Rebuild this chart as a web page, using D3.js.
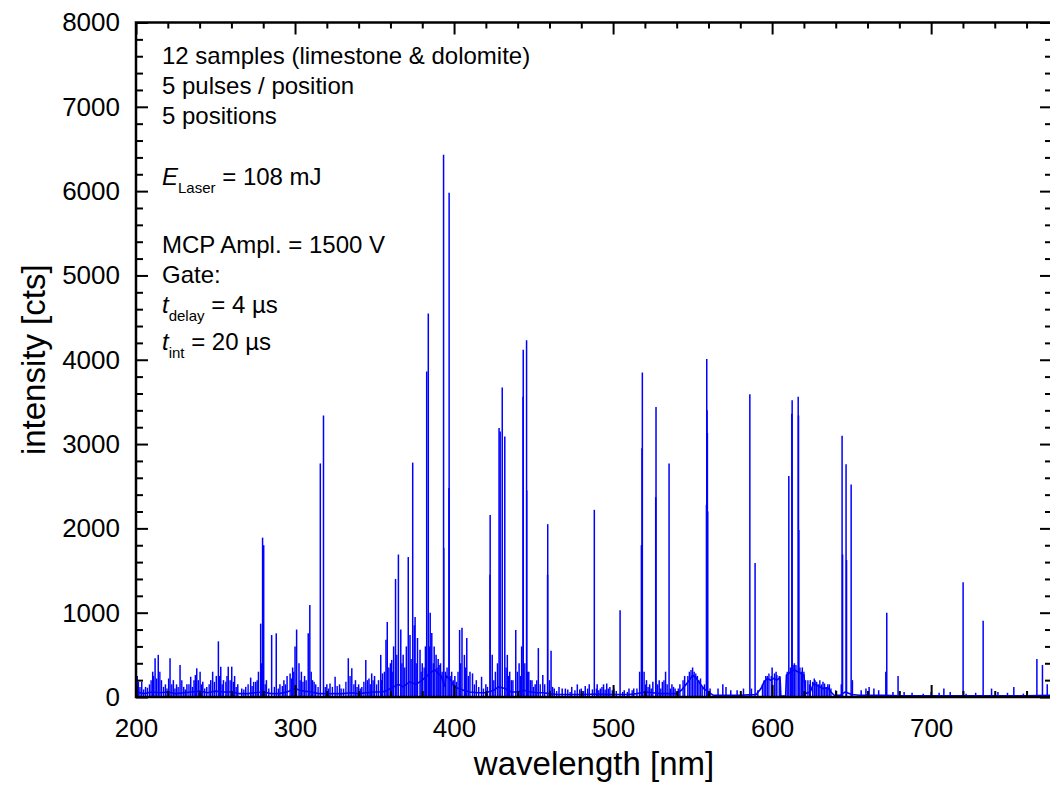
<!DOCTYPE html>
<html>
<head>
<meta charset="utf-8">
<script src="https://cdn.jsdelivr.net/npm/d3@7"></script>
<style>
  body { margin: 0; background: #fff; }
  svg { display: block; font-family: "Liberation Sans", Arial, sans-serif; }
  .axis .domain { display: none; }
  .axis line { stroke: #000; stroke-width: 2; }
  .axis text { font-size: 26px; fill: #000; font-family: "Liberation Sans", Arial, sans-serif; }
  .note { font-size: 24px; fill: #000; }
  .axis-label { font-size: 33px; fill: #000; }
</style>
</head>
<body>
<svg width="1050" height="800"></svg>
<script>
// axis ticks
const xTicks = [200, 300, 400, 500, 600, 700];
const xMinorTicks = [220, 240, 260, 280, 320, 340, 360, 380, 420, 440, 460, 480,
  520, 540, 560, 580, 620, 640, 660, 680, 720, 740, 760];
const yTicks = [0, 1000, 2000, 3000, 4000, 5000, 6000, 7000, 8000];

// emission lines: [wavelength nm, intensity cts]
const peaks = [
  [201.5, 180], [203.6, 180], [206, 120], [208.5, 150], [210.5, 300], [212, 460], [214, 500],
  [216, 200], [218.5, 150], [221.4, 460], [223.5, 200], [225.5, 150], [227.7, 380], [230, 120],
  [232, 150], [234.4, 240], [236.5, 200], [238.2, 340], [240.3, 300], [242, 180], [244.5, 120],
  [247, 200], [248.2, 300], [250.5, 250], [251.8, 660], [253.3, 360], [255, 200], [258, 360],
  [260.2, 360], [262, 250], [264, 150], [266.5, 100], [269, 120], [272.1, 230], [274, 180],
  [275.3, 180], [277, 300], [278.4, 870], [279.6, 1890], [280.3, 1800], [282, 200], [285.3, 735],
  [288.2, 755], [290.5, 150], [293, 200], [295, 250], [296.9, 280], [298.5, 350], [300, 600],
  [301, 800], [302.5, 400], [304, 300], [306, 250], [308.3, 755], [309.3, 1090], [311, 200],
  [313, 150], [315.9, 2770], [317.9, 3340], [320, 150], [322, 160], [325.2, 240], [328, 150],
  [330.5, 100], [333.5, 460], [335.7, 340], [338, 200], [340, 150], [342, 120], [344.5, 440],
  [346.5, 220], [348.2, 280], [350, 250], [352.5, 200], [353.9, 500], [355, 280], [357.2, 680],
  [358, 890], [360, 400], [360.8, 440], [362, 600], [363.2, 1400], [365, 1690], [366.5, 800],
  [368, 500], [370, 600], [371.2, 1660], [372.3, 735], [374, 2780], [375, 850], [375.5, 950],
  [377, 700], [378.6, 560], [380, 400], [382, 600], [382.8, 3860], [383.8, 4550], [385, 1000],
  [386, 760], [387.5, 600], [388.7, 500], [390, 450], [390.6, 380], [391.5, 400], [393.4, 6430],
  [393.5, 1770], [396.9, 5980], [396.8, 2480], [398.5, 300], [400.5, 250], [403.5, 795],
  [405, 820], [406.5, 500], [408, 700], [410, 300], [411.6, 280], [414, 200], [417.3, 240],
  [420, 150], [422.7, 2160], [422.6, 1450], [424, 500], [426, 300], [428.3, 3190], [429, 3150],
  [430.3, 3670], [431.9, 3090], [433.5, 500], [435, 300], [437, 200], [438.8, 795], [440.9, 400],
  [442.5, 600], [443.5, 4120], [443.4, 3560], [445.6, 4230], [445.7, 2450], [447, 300],
  [449, 200], [451, 150], [453, 580], [455.8, 260], [458.9, 2050], [458.8, 1450], [461, 550],
  [463, 100], [466, 120], [468, 100], [470, 100], [474, 120], [477.5, 150], [480, 100],
  [482.5, 130], [485, 150], [488.2, 2220], [490, 150], [492, 100], [494, 150], [496, 160],
  [498, 120], [500.5, 100], [504.4, 1030], [507, 80], [510, 100], [513, 100], [516.7, 300],
  [517.8, 1800], [518.4, 3850], [518.2, 2950], [519.5, 300], [521, 200], [523, 150], [525, 180],
  [527, 3440], [526.8, 2370], [529, 200], [531, 180], [533, 300], [535.2, 2770], [537, 150],
  [539, 100], [542, 150], [545, 250], [548, 300], [550, 350], [553, 250], [556, 120],
  [558.9, 4010], [559.1, 3400], [559.3, 3130], [558.7, 2280], [559.5, 2200], [561, 100],
  [566, 100], [569, 150], [571, 120], [574, 80], [578, 80], [582, 100], [586, 3590], [587, 100],
  [589.3, 1590], [591, 80], [594, 150], [597, 250], [600, 350], [602.5, 300], [610.5, 2620],
  [612.6, 3520], [612.4, 3360], [614, 400], [616.4, 3560], [616.6, 3340], [616.8, 1980],
  [619, 350], [621, 200], [624, 200], [627, 200], [629, 150], [632, 180], [634, 120], [636, 150],
  [640, 80], [643.5, 150], [644, 3100], [644.3, 1690], [646.5, 2760], [646.8, 1625],
  [649.7, 2520], [650.5, 200], [656, 80], [659, 100], [661, 120], [664, 100], [667, 80],
  [671.5, 300], [672.1, 1000], [676, 60], [679.2, 250], [683, 60], [688, 50], [695, 40],
  [700, 60], [705, 50], [708, 100], [712, 60], [720.1, 1360], [722, 40], [728, 50], [732.7, 905],
  [738, 100], [742, 60], [748, 50], [752, 120], [758, 40], [766.5, 450], [770, 380], [773, 150]
];

// low noise lines along the baseline: [wavelength nm, intensity cts]
const noise = [
  [200.8, 250], [202.5, 120], [204.8, 90], [207.2, 110], [209.5, 200], [211, 250], [213, 220],
  [215, 300], [217.3, 120], [219.5, 100], [220.5, 220], [222.5, 150], [224.5, 100], [226.5, 120],
  [228.8, 200], [231, 90], [233.3, 150], [235.5, 120], [237.3, 260], [239.2, 200], [241.2, 150],
  [243.2, 100], [246, 150], [249.3, 180], [252.5, 250], [254.2, 150], [256.5, 180], [257.2, 250],
  [259.2, 200], [261.2, 180], [263, 120], [267.8, 90], [270.5, 150], [273, 130], [276.2, 200],
  [279, 400], [281.2, 150], [283.5, 100], [287, 120], [289.5, 100], [292, 130], [294, 150],
  [297.8, 220], [299.2, 300], [303.2, 200], [305, 180], [307, 200], [310.2, 300], [312, 180],
  [314.5, 120], [319, 120], [321, 100], [323.5, 120], [326.5, 130], [329, 100], [332, 180],
  [334.6, 250], [337, 150], [339, 120], [341, 100], [343.3, 180], [345.5, 200], [347.3, 150],
  [349.1, 200], [351.3, 150], [354.5, 200], [356.2, 300], [359, 350], [361.5, 300], [364, 500],
  [367.2, 400], [369, 350], [373, 450], [376.2, 400], [379.3, 300], [381.2, 350], [384.5, 600],
  [387, 400], [389.3, 350], [392.5, 300], [394.6, 300], [395.6, 350], [398, 250], [399.5, 200],
  [401.5, 180], [402.5, 300], [404.2, 400], [407.2, 350], [409, 250], [412.8, 150], [415.5, 120],
  [418.5, 100], [421, 120], [425, 200], [427.3, 400], [432.7, 350], [434.2, 250], [436, 200],
  [439.8, 300], [441.8, 250], [444.5, 400], [446.3, 300], [448, 200], [450, 120], [452, 200],
  [454.2, 150], [457, 150], [460, 200], [462, 120], [464.5, 70], [471.5, 90], [473, 60],
  [476, 80], [479, 90], [481.5, 70], [484, 100], [487, 90], [489.5, 100], [491, 80], [493, 120],
  [495, 90], [497, 100], [499.5, 80], [502, 70], [506, 60], [509, 60], [512, 80], [515, 100],
  [520.5, 150], [522, 120], [524, 100], [528, 150], [530, 100], [532, 200], [534, 150], [536, 100],
  [538, 120], [541, 100], [544, 200], [547, 250], [549, 320], [551, 300], [552, 280], [554, 200],
  [555, 220], [557.5, 150], [595, 200], [596, 250], [598, 280], [599.5, 250], [601.5, 280],
  [603, 260], [604.5, 250], [609.5, 300], [611.5, 350], [613.2, 380], [615, 380], [617.5, 350],
  [618.5, 300], [620, 300], [622.5, 200], [623.5, 150], [625.5, 180], [626.5, 220], [628, 180],
  [630, 200], [631, 150], [633, 160], [635, 150], [637, 100]
];

// background continuum under the lines: [wavelength nm, intensity cts]
const continuum = [
  [200, 60], [205, 40], [210, 60], [215, 50], [220, 60], [225, 40], [230, 50], [235, 60],
  [240, 70], [245, 50], [250, 70], [255, 60], [260, 60], [265, 40], [270, 40], [275, 50],
  [280, 60], [285, 40], [290, 40], [295, 60], [300, 100], [303, 80], [306, 70], [310, 60],
  [315, 40], [320, 40], [325, 40], [330, 40], [335, 50], [340, 40], [345, 50], [350, 60],
  [355, 60], [358, 80], [360, 100], [365, 150], [368, 120], [372, 180], [376, 150], [380, 200],
  [383, 250], [386, 300], [388, 320], [390, 280], [392, 250], [394, 120], [395, 250], [398, 200],
  [400, 120], [403, 100], [406, 80], [410, 60], [415, 50], [420, 50], [425, 80], [428, 120],
  [432, 100], [436, 60], [440, 60], [444, 80], [448, 60], [452, 50], [456, 50], [460, 40],
  [465, 30], [470, 30], [480, 30], [490, 35], [500, 30], [510, 30], [515, 40], [520, 60],
  [525, 50], [530, 40], [535, 40], [540, 40], [543, 80], [546, 150], [548, 200], [550, 260],
  [552, 230], [555, 150], [557, 100], [560, 60], [563, 20], [570, 20], [575, 20], [580, 20],
  [585, 25], [590, 30], [593, 100], [595, 180], [597, 220], [599, 200], [601, 220], [603, 200],
  [605, 230], [605.5, 10], [608.5, 10], [609, 260], [611, 290], [614, 320], [617, 290],
  [620, 260], [621, 40], [624, 60], [626, 160], [629, 130], [632, 100], [635, 110], [637, 60],
  [639, 20], [643, 20], [646, 60], [650, 30], [655, 20], [660, 20], [670, 20], [680, 15],
  [690, 15], [700, 15], [710, 15], [720, 15], [730, 15], [740, 15], [750, 15], [760, 15],
  [776, 20]
];

const svg = d3.select("svg");
const width = +svg.attr("width");
const height = +svg.attr("height");

const margin = { top: 22.5, right: -2, bottom: 103, left: 136 };
const innerWidth = width - margin.left - margin.right;
const innerHeight = height - margin.top - margin.bottom;

const xScale = d3.scaleLinear().domain([200, 776]).range([0, innerWidth]);
const yScale = d3.scaleLinear().domain([0, 8000]).range([innerHeight, 0]);

const yMinorTicks = d3.range(200, 8000, 200).filter(v => v % 1000 !== 0);

const blue = "#0000ff";

const g = svg.append("g").attr("transform", `translate(${margin.left},${margin.top})`);

g.append("clipPath").attr("id", "plot-clip")
  .append("rect").attr("width", innerWidth).attr("height", innerHeight);

// spectrum
const plot = g.append("g").attr("clip-path", "url(#plot-clip)");

plot.append("path")
  .datum(continuum)
  .attr("fill", "none")
  .attr("stroke", blue)
  .attr("stroke-width", 1.6)
  .attr("d", d3.line().x(d => xScale(d[0])).y(d => yScale(d[1])));

plot.selectAll("line.noise")
  .data(noise)
  .join("line")
  .attr("class", "noise")
  .attr("x1", d => xScale(d[0]))
  .attr("x2", d => xScale(d[0]))
  .attr("y1", yScale(0))
  .attr("y2", d => yScale(d[1]))
  .attr("stroke", blue)
  .attr("stroke-width", 1.4);

plot.selectAll("line.peak")
  .data(peaks)
  .join("line")
  .attr("class", "peak")
  .attr("x1", d => xScale(d[0]))
  .attr("x2", d => xScale(d[0]))
  .attr("y1", yScale(0))
  .attr("y2", d => yScale(d[1]))
  .attr("stroke", blue)
  .attr("stroke-width", 1.5);

// axes with inward ticks on all four sides
const fmt = d3.format("d");

// helper: tick marks only, no labels
const tickOnly = (axis, transform) => {
  const a = g.append("g").attr("class", "axis");
  if (transform) a.attr("transform", transform);
  a.call(axis.tickFormat(""));
  a.selectAll("text").remove();
};

g.append("g").attr("class", "axis")
  .attr("transform", `translate(0,${innerHeight})`)
  .call(d3.axisBottom(xScale).tickValues(xTicks).tickFormat(fmt).tickSize(-12).tickPadding(22));
tickOnly(d3.axisBottom(xScale).tickValues(xMinorTicks).tickSize(-6), `translate(0,${innerHeight})`);
tickOnly(d3.axisTop(xScale).tickValues(xTicks).tickSize(-12));
tickOnly(d3.axisTop(xScale).tickValues(xMinorTicks).tickSize(-6));

g.append("g").attr("class", "axis")
  .call(d3.axisLeft(yScale).tickValues(yTicks).tickFormat(fmt).tickSize(-12).tickPadding(16));
tickOnly(d3.axisLeft(yScale).tickValues(yMinorTicks).tickSize(-7));
tickOnly(d3.axisRight(yScale).tickValues(yTicks).tickSize(-12), `translate(${innerWidth},0)`);
tickOnly(d3.axisRight(yScale).tickValues(yMinorTicks).tickSize(-7), `translate(${innerWidth},0)`);

// frame
g.append("rect")
  .attr("width", innerWidth)
  .attr("height", innerHeight)
  .attr("fill", "none")
  .attr("stroke", "#000")
  .attr("stroke-width", 2.5);

// axis titles
g.append("text")
  .attr("class", "axis-label")
  .attr("x", innerWidth / 2)
  .attr("y", innerHeight + 78)
  .attr("text-anchor", "middle")
  .text("wavelength [nm]");

g.append("text")
  .attr("class", "axis-label")
  .attr("transform", `translate(${-margin.left + 45},${innerHeight / 2}) rotate(-90)`)
  .attr("text-anchor", "middle")
  .text("intensity [cts]");

// measurement notes
const notes = svg.append("g").attr("class", "note").attr("transform", "translate(162,0)");
notes.append("text").attr("y", 64).text("12 samples (limestone & dolomite)");
notes.append("text").attr("y", 94).text("5 pulses / position");
notes.append("text").attr("y", 124).text("5 positions");

const eLine = notes.append("text").attr("y", 185);
eLine.append("tspan").attr("font-style", "italic").text("E");
eLine.append("tspan").attr("font-size", "15px").attr("dy", 8).text("Laser");
eLine.append("tspan").attr("dy", -8).text(" = 108 mJ");

notes.append("text").attr("y", 253).text("MCP Ampl. = 1500 V");
notes.append("text").attr("y", 283).text("Gate:");

const tDelay = notes.append("text").attr("y", 313);
tDelay.append("tspan").attr("font-style", "italic").text("t");
tDelay.append("tspan").attr("font-size", "15px").attr("dy", 8).text("delay");
tDelay.append("tspan").attr("dy", -8).text(" = 4 µs");

const tInt = notes.append("text").attr("y", 350);
tInt.append("tspan").attr("font-style", "italic").text("t");
tInt.append("tspan").attr("font-size", "15px").attr("dy", 8).text("int");
tInt.append("tspan").attr("dy", -8).text(" = 20 µs");
</script>
</body>
</html>
